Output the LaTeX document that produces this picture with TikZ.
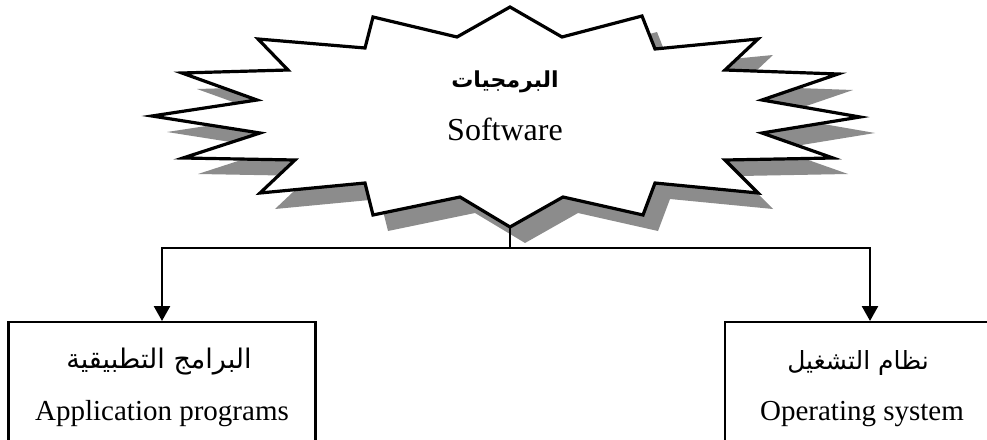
\documentclass[tikz,border=0pt]{standalone}
\usepackage{fontspec}
\setmainfont{Liberation Serif}
\newfontfamily\arabicfont[Script=Arabic]{DejaVu Sans}
\TeXXeTstate=1
\usetikzlibrary{arrows.meta}
\definecolor{shadowgray}{RGB}{140,140,140}
\tikzset{
  burstline/.style={draw=black, line width=3.2pt, line join=miter, fill=white},
  burstshadow/.style={fill=shadowgray, draw=none},
  conn/.style={draw=black, line width=2.6pt},
  arrowconn/.style={conn, -{Triangle[length=15pt,width=16pt]}},
  boxstyle/.style={draw=black, line width=2.2pt, fill=white, inner sep=0pt, anchor=north},
  entext/.style={font=\fontsize{29}{32}\selectfont, anchor=base, inner sep=0pt},
  artext/.style={font=\arabicfont\fontsize{27}{30}\selectfont, inner sep=0pt}
}
\def\burstpath{(510,7) -- (562,37) -- (642,16) -- (655,49) -- (758,39) -- (725,70) -- (838,74) -- (762,100) -- (860,117) -- (762,133) -- (833,158) -- (725,160) -- (758,193) -- (655,183) -- (643,215) -- (563,197) -- (510,227) -- (460,197) -- (373,215) -- (365,183) -- (260,193) -- (295,160) -- (183,158) -- (260,133) -- (152,116) -- (257,100) -- (182,73) -- (288,70) -- (258,39) -- (365,48) -- (373,17) -- (457,37) -- cycle}
\begin{document}
\begin{tikzpicture}[x=1pt,y=-1pt]
\useasboundingbox (0,0) rectangle (987,439);
\clip (0,0) rectangle (987,439);
\fill[white] (0,0) rectangle (987,439);
% starburst
\fill[burstshadow, shift={(15,16)}] \burstpath;
\path[burstline] \burstpath;
\node[font=\arabicfont\bfseries\fontsize{22}{26}\selectfont, inner sep=0pt] (swar) at (505,82) {\beginR البرمجيات\endR};
\node[font=\fontsize{32}{36}\selectfont, anchor=base, inner sep=0pt] (swen) at (505,140) {Software};
\coordinate (burstbot) at (510,227);
\coordinate (split) at (510,248);
% boxes
\node[boxstyle, minimum width=307pt, minimum height=160pt] (app) at (162,321) {};
\node[boxstyle, minimum width=290pt, minimum height=160pt] (os) at (870,321) {};
\node[artext] (appar) at (159,362) {\beginR البرامج التطبيقية\endR};
\node[artext, font=\arabicfont\fontsize{25}{28}\selectfont] (osar) at (858,363) {\beginR نظام التشغيل\endR};
\node[entext] (appen) at (162,420) {Application programs};
\node[entext] (osen) at (862,420) {Operating system};
% connectors
\draw[conn] (burstbot) -- (split);
\draw[arrowconn] (split) -| (app.north);
\draw[arrowconn] (split) -| (os.north);
\end{tikzpicture}
\end{document}
